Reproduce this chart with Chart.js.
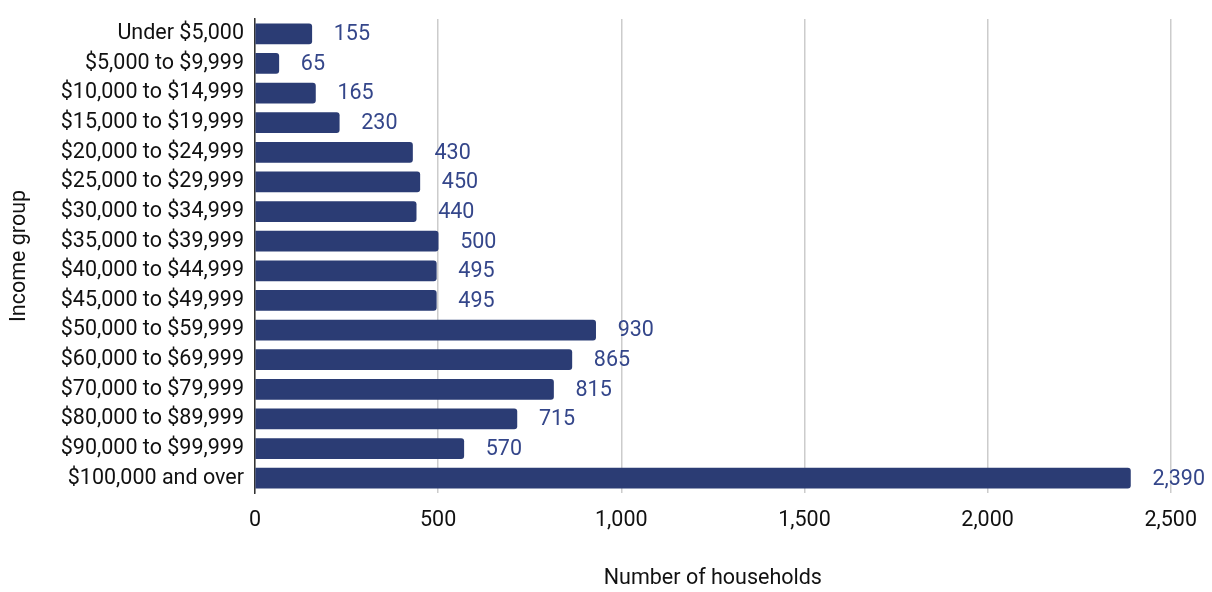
<!DOCTYPE html>
<html>
<head>
<meta charset="utf-8">
<script src="https://cdn.jsdelivr.net/npm/chart.js@4/dist/chart.umd.min.js"></script>
<style>
  html, body { margin: 0; padding: 0; background: #fff; }
  #wrap { width: 1212px; height: 592px; }
</style>
</head>
<body>
<div id="wrap"><canvas id="incomeChart" width="1212" height="592"></canvas></div>
<script>
const incomeGroups = [
  'Under $5,000',
  '$5,000 to $9,999',
  '$10,000 to $14,999',
  '$15,000 to $19,999',
  '$20,000 to $24,999',
  '$25,000 to $29,999',
  '$30,000 to $34,999',
  '$35,000 to $39,999',
  '$40,000 to $44,999',
  '$45,000 to $49,999',
  '$50,000 to $59,999',
  '$60,000 to $69,999',
  '$70,000 to $79,999',
  '$80,000 to $89,999',
  '$90,000 to $99,999',
  '$100,000 and over'
];
const households = [155, 65, 165, 230, 430, 450, 440, 500, 495, 495, 930, 865, 815, 715, 570, 2390];
const xTicks = [0, 500, 1000, 1500, 2000, 2500];

const barColor = '#2b3c74';
const labelColor = '#34468a';
const fontFamily = 'Roboto, "Noto Sans", sans-serif';
const fontSize = 21.5;

// value labels to the right of each bar
const valueLabels = {
  id: 'valueLabels',
  afterDatasetsDraw(chart) {
    const ctx = chart.ctx;
    const meta = chart.getDatasetMeta(0);
    ctx.save();
    ctx.font = fontSize + 'px ' + fontFamily;
    ctx.fillStyle = labelColor;
    ctx.textAlign = 'left';
    ctx.textBaseline = 'middle';
    meta.data.forEach(function (bar, i) {
      ctx.fillText(households[i].toLocaleString('en-US'), bar.x + 22, bar.y + 1);
    });
    ctx.restore();
  }
};

const chart = new Chart(document.getElementById('incomeChart'), {
  type: 'bar',
  data: {
    labels: incomeGroups,
    datasets: [{
      label: 'Number of households',
      data: households,
      backgroundColor: barColor,
      borderRadius: 3,
      borderSkipped: 'start',
      barThickness: 20
    }]
  },
  options: {
    indexAxis: 'y',
    responsive: false,
    animation: false,
    layout: { padding: { top: 19, right: 37, bottom: 0, left: 0 } },
    plugins: {
      legend: { display: false },
      tooltip: { enabled: false }
    },
    scales: {
      x: {
        min: 0,
        max: 2500,
        afterBuildTicks: function (scale) {
          scale.ticks = xTicks.map(function (v) { return { value: v }; });
        },
        afterFit: function (scale) { scale.height = 99; },
        grid: { color: '#cccccc', lineWidth: 1.5, drawTicks: false },
        border: { display: false },
        ticks: {
          color: '#111',
          padding: 15,
          font: { family: fontFamily, size: fontSize },
          callback: function (v) { return v.toLocaleString('en-US'); }
        },
        title: {
          display: true,
          text: 'Number of households',
          color: '#111',
          padding: { top: 0, bottom: 0 },
          font: { family: fontFamily, size: fontSize }
        }
      },
      y: {
        afterFit: function (scale) {
          scale.width = 255;
          scale.paddingTop = 0;
          scale.paddingBottom = 0;
        },
        grid: { display: false, drawTicks: false },
        border: { display: true, color: '#333', width: 1.5 },
        ticks: {
          color: '#111',
          padding: 11,
          font: { family: fontFamily, size: fontSize }
        },
        title: {
          display: true,
          text: 'Income group',
          color: '#111',
          padding: { top: 7, bottom: 0 },
          font: { family: fontFamily, size: fontSize }
        }
      }
    }
  },
  plugins: [valueLabels]
});
</script>
</body>
</html>
